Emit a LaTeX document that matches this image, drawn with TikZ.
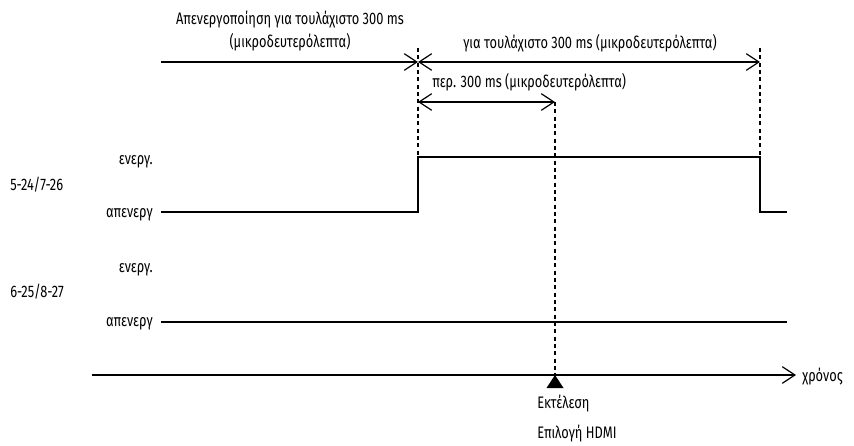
\documentclass[tikz,border=0pt]{standalone}
\usepackage{fontspec}
\setmainfont[FakeStretch=0.77]{Fira Sans}
\usetikzlibrary{arrows.meta}
\begin{document}
\begin{tikzpicture}[x=0.75pt,y=-0.75pt,
  lbl/.style={inner sep=0pt, font=\fontsize{12.5}{14}\selectfont},
  sig/.style={line width=1.1pt, line join=miter},
  dimline/.style={line width=0.9pt},
  guide/.style={line width=0.9pt, dash pattern=on 3pt off 2.5pt}]
\useasboundingbox (0,0) rectangle (854,446);
% texts
\node[lbl,anchor=base] (t1a) at (290,25) {Απενεργοποίηση για τουλάχιστο 300 ms};
\node[lbl,anchor=base] (t1b) at (290,47) {(μικροδευτερόλεπτα)};
\node[lbl,anchor=base] (t2) at (590,48) {για τουλάχιστο 300 ms (μικροδευτερόλεπτα)};
\node[lbl,anchor=base west] (t3) at (432,87) {περ. 300 ms (μικροδευτερόλεπτα)};
\node[lbl,anchor=base east] (on1) at (153,164) {ενεργ.};
\node[lbl,anchor=base west] (s1) at (10,190) {5-24/7-26};
\node[lbl,anchor=base east] (off1) at (153,217) {απενεργ};
\node[lbl,anchor=base east] (on2) at (153,272) {ενεργ.};
\node[lbl,anchor=base west] (s2) at (10,297) {6-25/8-27};
\node[lbl,anchor=base east] (off2) at (153,326) {απενεργ};
\node[lbl,anchor=base west] (time) at (802,381) {χρόνος};
\node[lbl,anchor=base west] (ex1) at (537,408) {Εκτέλεση};
\node[lbl,anchor=base west] (ex2) at (537,438) {Επιλογή HDMI};
% coordinates
\coordinate (a0) at (161,62);
\coordinate (a1) at (418,62);
\coordinate (a2) at (760,62);
\coordinate (b1) at (418,102);
\coordinate (b2) at (555,102);
\coordinate (g1t) at (418,48);
\coordinate (g1b) at (418,157);
\coordinate (g2t) at (760,48);
\coordinate (g2b) at (760,157);
\coordinate (ax0) at (92,375);
\coordinate (ax1) at (796,375);
\coordinate (tri) at (555,375);
% guides
\draw[guide] (g1t) -- (g1b);
\draw[guide] (g2t) -- (g2b);
\draw[guide] (b2) -- (tri);
% dimension arrows
\draw[dimline,-{Straight Barb[length=9.5pt,width=12.5pt]}] (a0) -- (a1);
\draw[dimline,{Straight Barb[length=9.5pt,width=12.5pt]}-{Straight Barb[length=9.5pt,width=12.5pt]}] (a1) -- (a2);
\draw[dimline,{Straight Barb[length=9.5pt,width=12.5pt]}-{Straight Barb[length=9.5pt,width=12.5pt]}] (b1) -- (b2);
% signals
\draw[sig] (161,212) -- (418,212) -- (418,157) -- (760,157) -- (760,212) -- (787,212);
\draw[sig] (161,322) -- (787,322);
% time axis
\draw[dimline,-{Straight Barb[length=9.5pt,width=12.5pt]}] (ax0) -- (ax1);
\fill (tri) -- ++(-8.5,13) -- ++(17,0) -- cycle;
\end{tikzpicture}
\end{document}
